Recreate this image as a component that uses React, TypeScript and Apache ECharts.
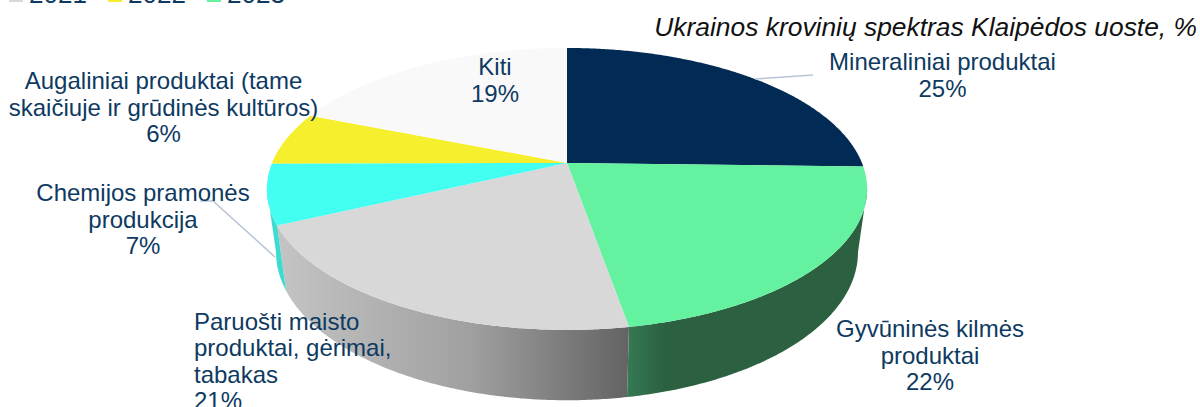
import React, { useEffect, useRef } from "react";
import * as echarts from "echarts";

const categories = [
  "Mineraliniai produktai",
  "Gyvūninės kilmės produktai",
  "Paruošti maisto produktai, gėrimai, tabakas",
  "Chemijos pramonės produkcija",
  "Augaliniai produktai (tame skaičiuje ir grūdinės kultūros)",
  "Kiti",
];
const values = [25.4, 21.85, 20.8, 6.9, 6.1, 18.95];
const topColors = ["#012B54", "#65F2A0", "#D8D8D8", "#42FFF2", "#F6EF2E", "#F9F9F9"];
const legendYears = ["2021", "2022", "2023"];
const legendColors = ["#D8D8D8", "#F6EF2E", "#65F2A0"];
const title = "Ukrainos krovinių spektras Klaipėdos uoste, %";
const labelLines = [
  "Mineraliniai produktai\n25%",
  "Gyvūninės kilmės\nproduktai\n22%",
  "Paruošti maisto\nproduktai, gėrimai,\ntabakas\n21%",
  "Chemijos pramonės\nprodukcija\n7%",
  "Augaliniai produktai (tame\nskaičiuje ir grūdinės kultūros)\n6%",
  "Kiti\n19%",
];

const CX = 567;
const K = 0.184;
const TOP = { y0: 163, a: 295, b: 136.2 };
const BOTTOM = { y0: 225, a: 286, b: 143 };
const FRONT_START = 100.6;
const FRONT_END = 259.4;
const total = values.reduce((s, v) => s + v, 0);

function rim(r: typeof TOP, deg: number): number[] {
  const t = (deg * Math.PI) / 180;
  const u = Math.sin(t);
  const v = -Math.cos(t);
  const w = 1 - K * v;
  return [CX + (r.a * u) / w, r.y0 + (r.b * v) / w];
}
function arc(r: typeof TOP, from: number, to: number): number[][] {
  const n = Math.max(2, Math.ceil(Math.abs(to - from) * 2));
  const pts: number[][] = [];
  for (let i = 0; i <= n; i++) pts.push(rim(r, from + ((to - from) * i) / n));
  return pts;
}
function sliceAngles(i: number): [number, number] {
  let s = 0;
  for (let j = 0; j < i; j++) s += values[j];
  return [(s / total) * 360, ((s + values[i]) / total) * 360];
}
const wallFill = (i: number) => {
  if (i === 1)
    return new echarts.graphic.LinearGradient(0, 0, 1, 0, [
      { offset: 0, color: "#357A54" },
      { offset: 0.16, color: "#2B6040" },
      { offset: 1, color: "#2B6040" },
    ]);
  if (i === 2)
    return new echarts.graphic.LinearGradient(0, 0, 1, 0, [
      { offset: 0, color: "#C4C4C4" },
      { offset: 0.55, color: "#A0A0A0" },
      { offset: 1, color: "#636363" },
    ]);
  return "#3FDAD0";
};

export default function App() {
  const ref = useRef<HTMLDivElement>(null);
  useEffect(() => {
    document.body.style.margin = "0";
    const chart = echarts.init(ref.current!, null, { renderer: "svg" });
    const FONT = "Liberation Sans";
    const textColor = "#0E3A62";
    const labelPos: { x: number; y: number; align: string }[] = [
      { x: 942.5, y: 75, align: "center" },
      { x: 930, y: 355, align: "center" },
      { x: 194, y: 361, align: "left" },
      { x: 143, y: 219, align: "center" },
      { x: 163.5, y: 107, align: "center" },
      { x: 495, y: 80, align: "center" },
    ];
    const graphics: any[] = [];
    legendYears.forEach((y, i) => {
      graphics.push({
        type: "rect",
        shape: { x: 9 + i * 99, y: -8, width: 14, height: 10 },
        style: { fill: legendColors[i] },
      });
      graphics.push({
        type: "text",
        x: 29 + i * 99,
        y: -6,
        style: { text: y, fill: textColor, font: `26px '${FONT}'`, textAlign: "left", textVerticalAlign: "middle" },
      });
    });
    graphics.push({
      type: "text",
      x: 1197,
      y: 27,
      style: { text: title, fill: "#111111", font: `italic 26.4px '${FONT}'`, textAlign: "right", textVerticalAlign: "middle" },
    });
    labelLines.forEach((t, i) => {
      graphics.push({
        type: "text",
        x: labelPos[i].x,
        y: labelPos[i].y,
        z: 10,
        style: {
          text: t,
          fill: textColor,
          font: `24px '${FONT}'`,
          lineHeight: 26.5,
          textAlign: labelPos[i].align,
          textVerticalAlign: "middle",
        },
      });
    });
    const leader = (points: number[][]) => ({
      type: "polyline",
      z: 5,
      shape: { points },
      style: { stroke: "#B8C4D6", lineWidth: 1.5, fill: "none" },
    });
    graphics.push(leader([[755, 79], [813, 75]]));
    graphics.push(leader([[200, 201], [213, 201], [275, 257]]));

    chart.setOption({
      animation: false,
      backgroundColor: "#FFFFFF",
      graphic: { elements: graphics },
      series: [
        {
          type: "custom",
          coordinateSystem: "none",
          silent: true,
          z: 1,
          data: values.map((v, i) => ({ name: categories[i], value: [i, v] })),
          renderItem: (_p: any, api: any) => {
            const i = api.value(0);
            const [a0, a1] = sliceAngles(i);
            const from = Math.max(a0, FRONT_START);
            const to = Math.min(a1, FRONT_END);
            if (to <= from) return null;
            const points = [...arc(TOP, from, to), ...arc(BOTTOM, to, from)];
            return { type: "polygon", shape: { points }, style: { fill: wallFill(i) } };
          },
        },
        {
          type: "custom",
          coordinateSystem: "none",
          silent: true,
          z: 2,
          data: values.map((v, i) => ({ name: categories[i], value: [i, v] })),
          renderItem: (_p: any, api: any) => {
            const i = api.value(0);
            const [a0, a1] = sliceAngles(i);
            const points = [[CX, TOP.y0], ...arc(TOP, a0, a1)];
            return { type: "polygon", shape: { points }, style: { fill: topColors[i] } };
          },
        },
      ],
    });
    return () => chart.dispose();
  }, []);
  return <div ref={ref} style={{ position: "absolute", left: 0, top: 0, width: 1200, height: 407 }} />;
}
